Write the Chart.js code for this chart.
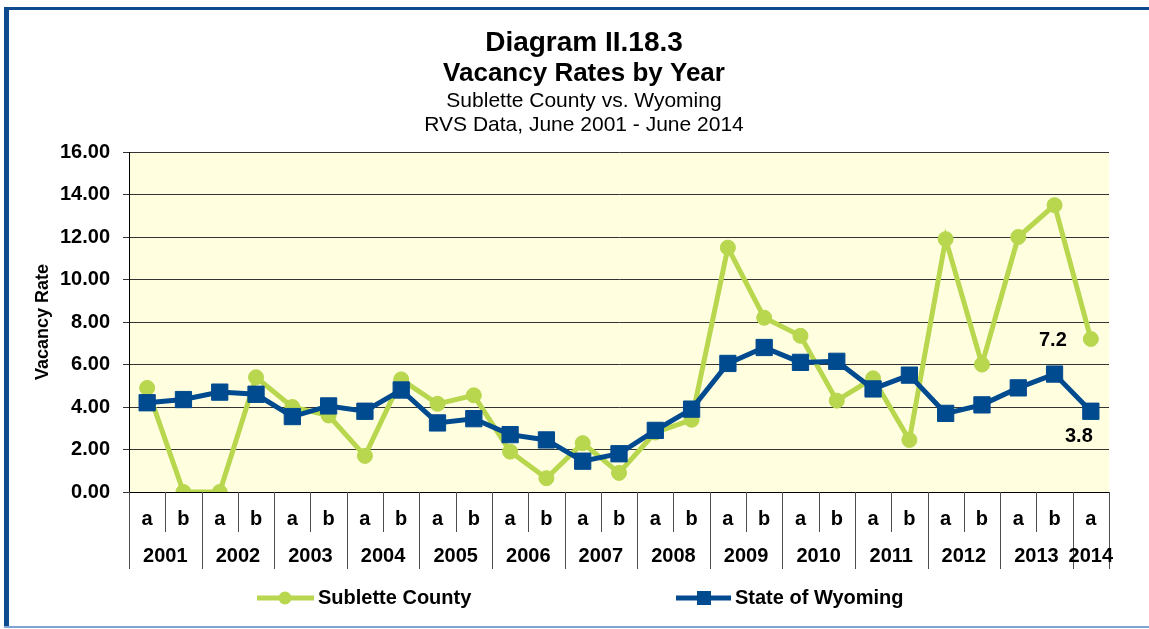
<!DOCTYPE html>
<html>
<head>
<meta charset="utf-8">
<title>Vacancy Rates by Year</title>
<script src="https://cdn.jsdelivr.net/npm/chart.js@4/dist/chart.umd.min.js"></script>
<style>
  html, body { margin: 0; padding: 0; background: #fff; }
  #wrap { position: relative; width: 1149px; height: 629px; }
</style>
</head>
<body>
<div id="wrap"><canvas id="vacancyChart"></canvas></div>
<script>
// half-year survey periods (a = spring, b = fall)
const periods = ['a','b','a','b','a','b','a','b','a','b','a','b','a','b',
                 'a','b','a','b','a','b','a','b','a','b','a','b','a'];
const years = ['2001','2002','2003','2004','2005','2006','2007',
               '2008','2009','2010','2011','2012','2013','2014'];

const subletteRates = [4.9, 0, 0, 5.4, 4.0, 3.6, 1.7, 5.3, 4.15, 4.55,
                       1.9, 0.65, 2.3, 0.9, 2.8, 3.4, 11.5, 8.2, 7.35, 4.3,
                       5.35, 2.45, 11.9, 6.0, 12.0, 13.5, 7.2];
const wyomingRates = [4.2, 4.35, 4.7, 4.6, 3.55, 4.05, 3.8, 4.8, 3.25, 3.45,
                      2.7, 2.45, 1.45, 1.8, 2.9, 3.9, 6.05, 6.8, 6.1, 6.15,
                      4.85, 5.5, 3.7, 4.1, 4.9, 5.55, 3.8];

const yTicks = [0, 2, 4, 6, 8, 10, 12, 14, 16];
const titleLines = ['Diagram II.18.3', 'Vacancy Rates by Year',
                    'Sublette County vs. Wyoming', 'RVS Data, June 2001 - June 2014'];

const FONT = '"Liberation Sans", Arial, sans-serif';
const GREEN = '#b8d64e';
const BLUE = '#004a8f';

// page frame, plot background and titles
const backdrop = {
  id: 'backdrop',
  beforeDraw(chart) {
    const { ctx, chartArea: a } = chart;
    ctx.save();
    ctx.fillStyle = '#fff';
    ctx.fillRect(0, 0, chart.width, chart.height);
    ctx.fillStyle = '#ffffe0';
    ctx.fillRect(a.left, a.top, a.width, a.height);

    ctx.fillStyle = '#0d4b8e';
    ctx.fillRect(4, 7, 5, 621);
    ctx.fillRect(4, 7, chart.width, 3);
    ctx.fillStyle = '#7ea4d2';
    ctx.fillRect(4, 626, chart.width, 2);

    ctx.fillStyle = '#000';
    ctx.textAlign = 'center';
    ctx.textBaseline = 'middle';
    ctx.font = 'bold 28px ' + FONT;
    ctx.fillText(titleLines[0], 584, 43);
    ctx.font = 'bold 26px ' + FONT;
    ctx.fillText(titleLines[1], 584, 74);
    ctx.font = '21px ' + FONT;
    ctx.fillText(titleLines[2], 584, 101);
    ctx.fillText(titleLines[3], 584, 125);
    ctx.restore();
  }
};

// two-level category axis: a/b row and year row with separators
const groupAxis = {
  id: 'groupAxis',
  afterDraw(chart) {
    const { ctx, chartArea: a } = chart;
    const xs = chart.scales.x;
    const labels = chart.data.labels;
    const n = labels.length;
    const step = xs.width / n;
    ctx.save();
    ctx.strokeStyle = '#4d4d4d';
    ctx.lineWidth = 1;
    for (let k = 0; k <= n; k++) {
      const x = Math.round(xs.left + k * step) + 0.5;
      const long = k % 2 === 0 || k === n;
      ctx.beginPath();
      ctx.moveTo(x, a.bottom);
      ctx.lineTo(x, long ? 569 : 532);
      ctx.stroke();
    }
    ctx.fillStyle = '#000';
    ctx.textAlign = 'center';
    ctx.textBaseline = 'middle';
    ctx.font = 'bold 20px ' + FONT;
    labels.forEach((lab, i) => ctx.fillText(lab, xs.getPixelForValue(i), 519));
    years.forEach((yr, g) => {
      const idx = [2 * g, 2 * g + 1].filter(i => i < n);
      const cx = idx.reduce((s, i) => s + xs.getPixelForValue(i), 0) / idx.length;
      ctx.fillText(yr, cx, 556);
    });
    ctx.restore();
  }
};

// legend with line + marker swatches, and the two end-value labels
const extras = {
  id: 'extras',
  afterDraw(chart) {
    const { ctx } = chart;
    const ds = chart.data.datasets;
    ctx.save();
    ctx.lineWidth = 5;
    ctx.font = 'bold 20px ' + FONT;
    ctx.textBaseline = 'middle';
    ctx.textAlign = 'left';

    ctx.strokeStyle = GREEN;
    ctx.fillStyle = GREEN;
    ctx.beginPath(); ctx.moveTo(257, 598); ctx.lineTo(314, 598); ctx.stroke();
    ctx.beginPath(); ctx.arc(285, 598, 6.5, 0, Math.PI * 2); ctx.fill();
    ctx.fillStyle = '#000';
    ctx.fillText(ds[0].label, 318, 598);

    ctx.strokeStyle = BLUE;
    ctx.fillStyle = BLUE;
    ctx.beginPath(); ctx.moveTo(676, 598); ctx.lineTo(731, 598); ctx.stroke();
    ctx.fillRect(697, 591, 14, 14);
    ctx.fillStyle = '#000';
    ctx.fillText(ds[1].label, 735, 598);

    const last = periods.length - 1;
    const pS = chart.getDatasetMeta(0).data[last];
    const pW = chart.getDatasetMeta(1).data[last];
    ctx.textAlign = 'center';
    ctx.fillText(subletteRates[last].toFixed(1), pS.x - 38, pS.y + 1);
    ctx.fillText(wyomingRates[last].toFixed(1), pW.x - 12, pW.y + 25);
    ctx.restore();
  }
};

const ctx = document.getElementById('vacancyChart').getContext('2d');

new Chart(ctx, {
  type: 'line',
  data: {
    labels: periods,
    datasets: [{
      label: 'Sublette County',
      data: subletteRates,
      borderColor: GREEN,
      backgroundColor: GREEN,
      borderWidth: 5,
      pointStyle: 'circle',
      pointRadius: 7.5,
      pointBorderWidth: 1,
      order: 1
    }, {
      label: 'State of Wyoming',
      data: wyomingRates,
      borderColor: BLUE,
      backgroundColor: BLUE,
      borderWidth: 5,
      pointStyle: 'rect',
      pointRadius: 11.5,
      pointBorderWidth: 1,
      order: 0
    }]
  },
  options: {
    responsive: true,
    maintainAspectRatio: false,
    animation: false,
    layout: { padding: { left: 0, right: 40, top: 152, bottom: 0 } },
    plugins: {
      legend: { display: false },
      tooltip: { enabled: false }
    },
    scales: {
      x: {
        offset: true,
        afterFit(scale) { scale.height = 137; },
        ticks: { display: false },
        grid: { display: false },
        border: { color: '#000', width: 1 }
      },
      y: {
        min: yTicks[0],
        max: yTicks[yTicks.length - 1],
        afterFit(scale) { scale.width = 129; },
        afterBuildTicks(scale) { scale.ticks = yTicks.map(v => ({ value: v })); },
        ticks: {
          padding: 13,
          color: '#000',
          font: { family: FONT, size: 20, weight: 'bold' },
          callback: v => v.toFixed(2)
        },
        grid: { color: '#333', tickLength: 6 },
        border: { color: '#000', width: 1 },
        title: {
          display: true,
          text: 'Vacancy Rate',
          color: '#000',
          font: { family: FONT, size: 18, weight: 'bold' },
          padding: { top: 32, bottom: 0 }
        }
      }
    }
  },
  plugins: [backdrop, groupAxis, extras]
});
</script>
</body>
</html>
